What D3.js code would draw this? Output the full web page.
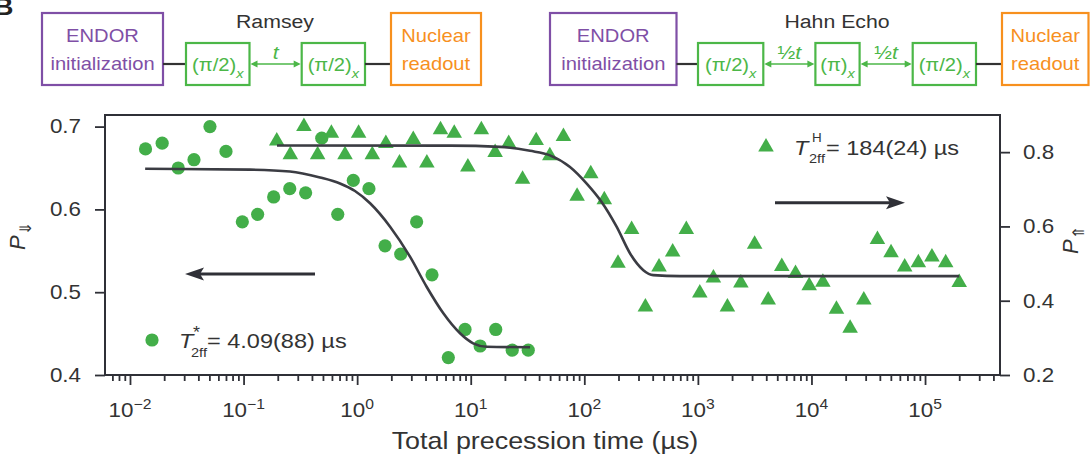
<!DOCTYPE html>
<html>
<head>
<meta charset="utf-8">
<script src="https://cdn.jsdelivr.net/npm/d3@7"></script>
<style>
  body { margin: 0; background: #fff; }
  text { font-family: "Liberation Sans", Arial, sans-serif; }
</style>
</head>
<body>
<div id="chart"></div>
<script>
// Ramsey data (circles, left axis), time in us
var ramseyTime = [0.0137, 0.0192, 0.0266, 0.0366, 0.0506, 0.0700, 0.0975, 0.133, 0.184, 0.255,
                  0.352, 0.488, 0.675, 0.925, 1.27, 1.76, 2.42, 3.34, 4.56, 6.35,
                  8.91, 12.1, 16.6, 23.2, 32.1];
var ramseyPop = [0.673, 0.680, 0.650, 0.660, 0.700, 0.670, 0.585, 0.594, 0.615, 0.625,
                 0.620, 0.686, 0.594, 0.635, 0.625, 0.556, 0.546, 0.585, 0.521, 0.421,
                 0.455, 0.435, 0.455, 0.430, 0.430];

// Hahn echo data (triangles, right axis)
var hahnTime = [0.196, 0.258, 0.340, 0.449, 0.593, 0.782, 1.03, 1.36, 1.79, 2.36,
                3.12, 4.11, 5.42, 7.16, 9.44, 12.4, 16.4, 21.6, 28.6, 37.7,
                49.7, 65.5, 86.4, 114, 150, 198, 261, 345, 455, 600,
                791, 1040, 1370, 1820, 2390, 3160, 4160, 5480, 7240, 9550,
                12600, 16600, 21900, 28900, 38100, 50200, 66200, 87300, 115000, 152000,
                200000];
var hahnPop = [0.830, 0.793, 0.869, 0.793, 0.851, 0.793, 0.851, 0.793, 0.823, 0.771,
               0.834, 0.771, 0.860, 0.851, 0.760, 0.860, 0.799, 0.823, 0.727, 0.831,
               0.790, 0.842, 0.681, 0.742, 0.672, 0.501, 0.592, 0.383, 0.491, 0.531,
               0.592, 0.421, 0.461, 0.383, 0.448, 0.552, 0.402, 0.492, 0.473, 0.440,
               0.450, 0.377, 0.326, 0.402, 0.565, 0.529, 0.491, 0.502, 0.518, 0.502,
               0.449];

// fitted curves
var ramseyFitTime = [0.0136, 0.114, 0.256, 0.471, 0.706, 0.957, 1.30, 1.95, 2.92, 4.09,
                     5.74, 8.05, 10.5, 13.8, 33.3];
var ramseyFitPop = [0.649, 0.648, 0.6458, 0.6385, 0.6313, 0.6222, 0.6074, 0.5791, 0.5429, 0.5066,
                    0.4745, 0.4504, 0.4383, 0.4342, 0.4335];
var hahnFitTime = [0.197, 6.58, 18.1, 33.3, 49.9, 74.8, 105, 142, 193, 253,
                   331, 405, 696, 200000];
var hahnFitPop = [0.818, 0.8175, 0.8143, 0.8035, 0.7914, 0.760, 0.7153, 0.6659, 0.5987, 0.5272,
                  0.4823, 0.4688, 0.4661, 0.4661];

// tick labels
var xExponents = [-2, -1, 0, 1, 2, 3, 4, 5];
var leftTicks = [0.4, 0.5, 0.6, 0.7];
var rightTicks = [0.2, 0.4, 0.6, 0.8];

var green = "#43ae49", dark = "#2f3037", curveCol = "#3b3c43";
var purple = "#7f4fa6", orange = "#f7901e", boxGreen = "#4cb748";
var SX = 1.12;   // text in the figure is a bit wide

var margin = {top: 115, right: 90, bottom: 83, left: 105},
    width = 1090 - margin.left - margin.right,
    height = 458 - margin.top - margin.bottom;

var root = d3.select("#chart")
  .append("svg")
    .attr("width", 1090)
    .attr("height", 458);

function addText(parent, x, y, size, str) {
  return parent.append("text")
    .attr("transform", "translate(" + x + "," + y + ") scale(" + SX + ",1)")
    .style("font-size", size + "px")
    .text(str || null);
}

// ---------- pulse sequence diagrams ----------
var dg = root.append("g");

addText(dg, -6, 15, 24, "B").style("font-weight", "bold").style("fill", "#222");

var lineY = 64;
function box(x0, x1, y0, y1, color) {
  dg.append("rect")
    .attr("x", x0).attr("y", y0)
    .attr("width", x1 - x0).attr("height", y1 - y0)
    .style("fill", "none")
    .style("stroke", color)
    .style("stroke-width", 2.2);
}
function connector(x0, x1) {
  dg.append("line")
    .attr("x1", x0).attr("x2", x1).attr("y1", lineY).attr("y2", lineY)
    .style("stroke", "#333").style("stroke-width", 2.2);
}
function bigBox(x0, x1, color, l1, l2) {
  box(x0, x1, 13, 85, color);
  var cx = (x0 + x1) / 2;
  addText(dg, cx, 42, 18, l1).attr("text-anchor", "middle").style("fill", color);
  addText(dg, cx, 70, 18, l2).attr("text-anchor", "middle").style("fill", color);
}
function pulse(x0, x1, str) {
  box(x0, x1, 43, 85, boxGreen);
  var t = addText(dg, (x0 + x1) / 2, 71, 18).attr("text-anchor", "middle").style("fill", boxGreen);
  t.append("tspan").text(str);
  t.append("tspan").attr("dy", 7).style("font-size", "13px").style("font-style", "italic").text("x");
}
function timeArrow(x0, x1, half) {
  dg.append("line")
    .attr("x1", x0 + 3).attr("x2", x1 - 3).attr("y1", lineY).attr("y2", lineY)
    .style("stroke", boxGreen).style("stroke-width", 1.6);
  dg.append("path")
    .attr("d", "M" + (x0 + 1) + "," + lineY + "l7,-3.5v7z")
    .style("fill", boxGreen);
  dg.append("path")
    .attr("d", "M" + (x1 - 1) + "," + lineY + "l-7,-3.5v7z")
    .style("fill", boxGreen);
  var t = addText(dg, (x0 + x1) / 2, 59, 19).attr("text-anchor", "middle").style("fill", boxGreen);
  if (half) t.append("tspan").text("½");
  t.append("tspan").style("font-style", "italic").text("t");
}

// Ramsey
addText(dg, 275, 28, 19, "Ramsey").attr("text-anchor", "middle").style("fill", "#333");
bigBox(42, 163, purple, "ENDOR", "initialization");
connector(163, 186);
pulse(186, 249.5, "(π/2)");
timeArrow(249.5, 301.7, false);
pulse(301.7, 365, "(π/2)");
connector(365, 391);
bigBox(391, 481, orange, "Nuclear", "readout");

// Hahn echo
addText(dg, 837, 28, 19, "Hahn Echo").attr("text-anchor", "middle").style("fill", "#333");
bigBox(550, 676.5, purple, "ENDOR", "initialization");
connector(676.5, 698);
pulse(698, 763.3, "(π/2)");
timeArrow(763.3, 815.4, true);
pulse(815.4, 859.6, "(π)");
timeArrow(859.6, 912.7, true);
pulse(912.7, 976, "(π/2)");
connector(976, 1002);
bigBox(1002, 1088.5, orange, "Nuclear", "readout");

// ---------- main plot ----------
var svg = root.append("g")
    .attr("transform", "translate(" + margin.left + "," + margin.top + ")");

var x = d3.scaleLog()
    .domain([Math.pow(10, -2.22), Math.pow(10, 5.66)])
    .range([0, width]);
var yL = d3.scaleLinear().domain([0.4, 0.714]).range([height, 0]);
var yR = d3.scaleLinear().domain([0.2, 0.9]).range([height, 0]);

// minor + major ticks on the log axis
var xMajor = xExponents.map(function(e) { return Math.pow(10, e); });
var xAll = [];
for (var e = -3; e <= 5; e++) {
  for (var m = 1; m <= 9; m++) {
    var v = m * Math.pow(10, e);
    if (v >= x.domain()[0] && v <= x.domain()[1]) xAll.push(v);
  }
}

var xAxisG = svg.append("g")
    .attr("transform", "translate(0," + height + ")")
    .call(d3.axisBottom(x).tickValues(xAll).tickSize(10).tickSizeOuter(0).tickFormat(""));
xAxisG.select(".domain").remove();
xAxisG.selectAll(".tick line")
    .attr("y2", function(d) {
      var l = Math.log10(d);
      return Math.abs(l - Math.round(l)) < 1e-6 ? 10 : 6;
    })
    .style("stroke", dark).style("stroke-width", 1.8);

xMajor.forEach(function(v, i) {
  var t = addText(xAxisG, x(v), 41.7, 20).attr("text-anchor", "middle").style("fill", "#333");
  t.append("tspan").text("10");
  t.append("tspan").attr("dy", -8).style("font-size", "14px")
    .text(xExponents[i] < 0 ? "\u2212" + Math.abs(xExponents[i]) : xExponents[i]);
});

// left axis
var yLG = svg.append("g")
    .call(d3.axisLeft(yL).tickValues(leftTicks).tickSize(10).tickSizeOuter(0).tickFormat(d3.format(".1f")));
yLG.select(".domain").remove();
yLG.selectAll(".tick line").style("stroke", dark).style("stroke-width", 1.8);
yLG.selectAll(".tick text")
    .attr("x", -24 / SX).attr("transform", "scale(" + SX + ",1)")
    .style("font-size", "20px").style("fill", "#333")
    .style("font-family", "'Liberation Sans', Arial, sans-serif");

// right axis
var yRG = svg.append("g")
    .attr("transform", "translate(" + width + ",0)")
    .call(d3.axisRight(yR).tickValues(rightTicks).tickSize(10).tickSizeOuter(0).tickFormat(d3.format(".1f")));
yRG.select(".domain").remove();
yRG.selectAll(".tick line").style("stroke", dark).style("stroke-width", 1.8);
yRG.selectAll(".tick text")
    .attr("x", 23 / SX).attr("transform", "scale(" + SX + ",1)")
    .style("font-size", "20px").style("fill", "#333")
    .style("font-family", "'Liberation Sans', Arial, sans-serif");

// frame
svg.append("rect")
    .attr("width", width).attr("height", height)
    .style("fill", "none").style("stroke", dark).style("stroke-width", 2);

// markers
var ramsey = ramseyTime.map(function(t, i) { return {t: t, p: ramseyPop[i]}; });
var hahn = hahnTime.map(function(t, i) { return {t: t, p: hahnPop[i]}; });

svg.selectAll(".dot")
    .data(ramsey)
    .enter().append("circle")
    .attr("class", "dot")
    .attr("cx", function(d) { return x(d.t); })
    .attr("cy", function(d) { return yL(d.p); })
    .attr("r", 6.6)
    .style("fill", green);

var tri = d3.symbol().type(d3.symbolTriangle).size(105);
svg.selectAll(".tri")
    .data(hahn)
    .enter().append("path")
    .attr("class", "tri")
    .attr("d", tri)
    .attr("transform", function(d) { return "translate(" + x(d.t) + "," + yR(d.p) + ")"; })
    .style("fill", green);

// fit curves
var ramseyFit = ramseyFitTime.map(function(t, i) { return {t: t, p: ramseyFitPop[i]}; });
var hahnFit = hahnFitTime.map(function(t, i) { return {t: t, p: hahnFitPop[i]}; });

svg.append("path")
    .datum(ramseyFit)
    .attr("d", d3.line()
      .x(function(d) { return x(d.t); })
      .y(function(d) { return yL(d.p); })
      .curve(d3.curveMonotoneX))
    .style("fill", "none").style("stroke", curveCol).style("stroke-width", 2.6);

svg.append("path")
    .datum(hahnFit)
    .attr("d", d3.line()
      .x(function(d) { return x(d.t); })
      .y(function(d) { return yR(d.p); })
      .curve(d3.curveMonotoneX))
    .style("fill", "none").style("stroke", curveCol).style("stroke-width", 2.6);

// direction arrows (which axis goes with which data)
function bigArrow(xFrom, xTo, y) {
  var dir = xTo > xFrom ? 1 : -1;
  svg.append("line")
    .attr("x1", xFrom).attr("x2", xTo - dir * 10).attr("y1", y).attr("y2", y)
    .style("stroke", dark).style("stroke-width", 3);
  svg.append("path")
    .attr("d", "M" + xTo + "," + y +
               "L" + (xTo - dir * 19) + "," + (y - 6.5) +
               "L" + (xTo - dir * 15) + "," + y +
               "L" + (xTo - dir * 19) + "," + (y + 6.5) + "Z")
    .style("fill", dark);
}
bigArrow(210, 80, 159);
bigArrow(670, 800, 87.7);

// legends
svg.append("circle").attr("cx", 47).attr("cy", 225).attr("r", 6.6).style("fill", green);
addText(svg, 74, 233, 21, "T").style("font-style", "italic").style("fill", "#333");
addText(svg, 88, 223, 16, "*").style("fill", "#333");
addText(svg, 86, 242, 13, "2ff").style("fill", "#333");
addText(svg, 102, 233, 21, "= 4.09(88) µs").style("fill", "#333");

svg.append("path").attr("d", tri).attr("transform", "translate(661,32)").style("fill", green);
addText(svg, 689, 40, 21, "T").style("font-style", "italic").style("fill", "#333");
addText(svg, 707, 27, 12, "H").style("fill", "#333");
addText(svg, 704, 48, 13, "2ff").style("fill", "#333");
addText(svg, 721, 40, 21, "= 184(24) µs").style("fill", "#333");

// axis titles
addText(root, 545, 449, 24, "Total precession time (µs)").attr("text-anchor", "middle").style("fill", "#333");

var yl = root.append("text")
    .attr("transform", "translate(25,236) rotate(-90)")
    .attr("text-anchor", "middle")
    .style("fill", "#333");
yl.append("tspan").style("font-size", "22px").style("font-style", "italic").text("P");
yl.append("tspan").attr("dy", 6).style("font-size", "16px")
  .style("font-family", "'DejaVu Sans', sans-serif").text("⇓");

var yr = root.append("text")
    .attr("transform", "translate(1078,240) rotate(-90)")
    .attr("text-anchor", "middle")
    .style("fill", "#333");
yr.append("tspan").style("font-size", "22px").style("font-style", "italic").text("P");
yr.append("tspan").attr("dy", 6).style("font-size", "16px")
  .style("font-family", "'DejaVu Sans', sans-serif").text("⇑");
</script>
</body>
</html>
